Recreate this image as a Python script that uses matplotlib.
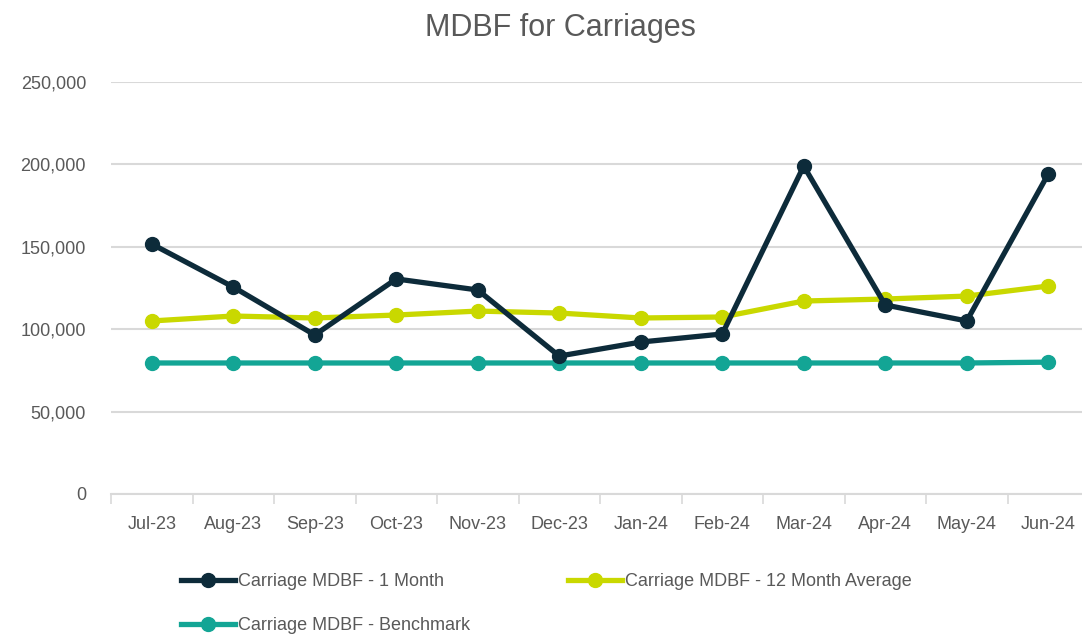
import matplotlib.pyplot as plt
from matplotlib.ticker import FuncFormatter, FixedLocator

# data
months = ["Jul-23", "Aug-23", "Sep-23", "Oct-23", "Nov-23", "Dec-23",
          "Jan-24", "Feb-24", "Mar-24", "Apr-24", "May-24", "Jun-24"]
one_month = [151700, 125600, 96500, 130500, 123800, 83700,
             92200, 97100, 199000, 114700, 105000, 194200]
avg_12 = [105000, 108000, 106800, 108600, 111000, 109800,
          106800, 107400, 117100, 118300, 120100, 126200]
benchmark = [79500, 79500, 79500, 79500, 79500, 79500,
             79500, 79500, 79500, 79500, 79500, 80000]

plt.rcParams['font.family'] = ['Liberation Sans', 'DejaVu Sans']
grey = "#595959"

fig = plt.figure(figsize=(10.82, 6.37), dpi=100)
ax = fig.add_axes([111/1082, 1 - 494/637, 978/1082, 412/637])

x = list(range(len(months)))
l1, = ax.plot(x, one_month, color="#0D2B3A", lw=3.8, marker="o", ms=10,
              label="Carriage MDBF - 1 Month", zorder=4)
l2, = ax.plot(x, avg_12, color="#C9D800", lw=3.8, marker="o", ms=10,
              label="Carriage MDBF - 12 Month Average", zorder=3)
l3, = ax.plot(x, benchmark, color="#13A595", lw=3.8, marker="o", ms=10,
              label="Carriage MDBF - Benchmark", zorder=3)

ax.set_xlim(-0.5, len(months) - 0.5)
ax.set_ylim(0, 250000)
ax.set_yticks(range(0, 250001, 50000))
ax.yaxis.set_major_formatter(FuncFormatter(lambda v, p: f"{int(v):,}"))
ax.grid(axis="y", color="#D9D9D9", lw=1.5)
ax.set_axisbelow(True)

ax.set_xticks(x)
ax.set_xticklabels(months)
ax.xaxis.set_minor_locator(FixedLocator([i - 0.5 for i in range(len(months) + 1)]))
ax.tick_params(axis="x", which="major", length=0, pad=16, labelsize=13, labelcolor=grey)
ax.tick_params(axis="x", which="minor", length=7, width=1.2, color="#D9D9D9")
ax.tick_params(axis="y", length=0, pad=18, labelsize=13, labelcolor=grey)

for s in ["top", "right", "left"]:
    ax.spines[s].set_visible(False)
ax.spines["bottom"].set_color("#D9D9D9")
ax.spines["bottom"].set_linewidth(1.5)

fig.text(560/1082, 1 - 28/637, "MDBF for Carriages", ha="center", va="center",
         fontsize=22, color=grey)

# column-wise fill: 1 Month + Benchmark in first column
fig.legend(handles=[l1, l3, l2], loc="upper left",
           bbox_to_anchor=(165/1082, 1 - 557/637), ncol=2, frameon=False,
           handlelength=3.0, handletextpad=0.15,
           labelspacing=1.5, columnspacing=5.4, labelcolor=grey,
           prop={'size': 13})

fig.savefig("out.png", dpi=100)
